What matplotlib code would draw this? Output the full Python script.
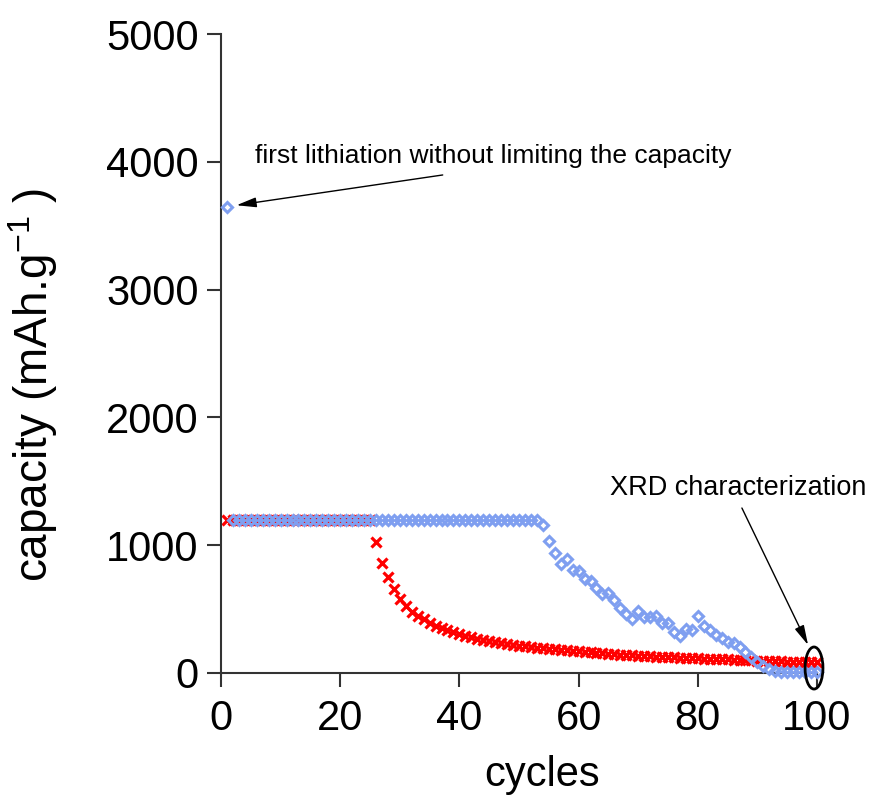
import numpy as np
import matplotlib
matplotlib.use('Agg')
import matplotlib.pyplot as plt
from matplotlib.patches import Ellipse

plt.rcParams['font.family'] = ['Liberation Sans', 'DejaVu Sans']
plt.rcParams['mathtext.fontset'] = 'custom'
plt.rcParams['mathtext.rm'] = 'Liberation Sans'
plt.rcParams['mathtext.default'] = 'regular'

# cycle numbers
cycles = np.arange(1, 101)

# red series (crosses), mAh/g
red_capacity = [1200] * 25 + [
    1027, 863, 749, 657, 579, 524, 480, 446, 420, 394,
    370, 350, 336, 318, 305, 290, 278, 267, 257, 248,
    240, 233, 226, 220, 214, 208, 203, 198, 194, 190,
    186, 182, 178, 174, 170, 166, 162, 158, 154, 150,
    147, 144, 141, 138, 135, 132, 130, 128, 126, 124,
    122, 120, 118, 116, 114, 112, 110, 108, 107, 106,
    105, 103, 101, 99, 97, 95, 93, 92, 90, 89,
    88, 86, 85, 84, 83,
]

# blue series (open diamonds)
blue_capacity = [3650] + [1200] * 52 + [
    1158, 1033, 936, 853, 890, 806, 798, 736, 722, 667,
    618, 628, 571, 506, 462, 425, 484, 436, 441, 446,
    389, 394, 323, 290, 344, 336, 446, 368, 336, 297,
    271, 245, 235, 206, 167, 128, 89, 55, 29, 12,
    8, 6, 5, 5, 5, 5, 5,
]

fig = plt.figure(figsize=(8.77, 7.96), dpi=100)
ax = fig.add_axes([221 / 877, 123 / 796, 596 / 877, 639 / 796])

ax.plot(cycles, red_capacity, linestyle='none', marker='x', color='#ff0000',
        markersize=6.5, markeredgewidth=2.3, clip_on=False, zorder=2)
ax.plot(cycles, blue_capacity, linestyle='none', marker='D', color='#7f9ff0',
        markerfacecolor='none', markersize=5.5, markeredgewidth=2.2,
        clip_on=False, zorder=3)

ax.set_xlim(0, 100)
ax.set_ylim(0, 5000)
ax.set_xticks([0, 20, 40, 60, 80, 100])
ax.set_yticks([0, 1000, 2000, 3000, 4000, 5000])

for side in ['top', 'right']:
    ax.spines[side].set_visible(False)
for side in ['left', 'bottom']:
    ax.spines[side].set_linewidth(1.5)
    ax.spines[side].set_color('#333333')
ax.tick_params(direction='out', length=10, width=1.5, color='#333333',
               labelsize=30, pad=6)
ax.tick_params(axis='x', pad=9)

ax.set_xlabel('cycles', fontsize=30)
ax.xaxis.set_label_coords(0.539, -0.128)
ax.set_ylabel('capacity (mAh.g$^{-1}$ )', fontsize=33)
ax.yaxis.set_label_coords(-0.27, 0.4507)

# annotations
ax.text(5.7, 3991, 'first lithiation without limiting the capacity',
        fontsize=19, ha='left', va='baseline')
ax.annotate('', xy=(2.6, 3660), xytext=(37.2, 3897),
            arrowprops=dict(arrowstyle='-|>,head_length=1.0,head_width=0.25',
                            color='black', lw=1, mutation_scale=12,
                            shrinkA=0, shrinkB=0))

ax.text(65.3, 1393, 'XRD characterization', fontsize=19.5,
        ha='left', va='baseline')
ax.annotate('', xy=(98.5, 219), xytext=(87.4, 1291),
            arrowprops=dict(arrowstyle='-|>,head_length=1.0,head_width=0.25',
                            color='black', lw=1, mutation_scale=12,
                            shrinkA=0, shrinkB=0))
ax.add_patch(Ellipse((99.5, 39), 3.0, 329, fill=False, edgecolor='black',
                     lw=2, clip_on=False, zorder=4))

fig.savefig('out.png', dpi=100)
